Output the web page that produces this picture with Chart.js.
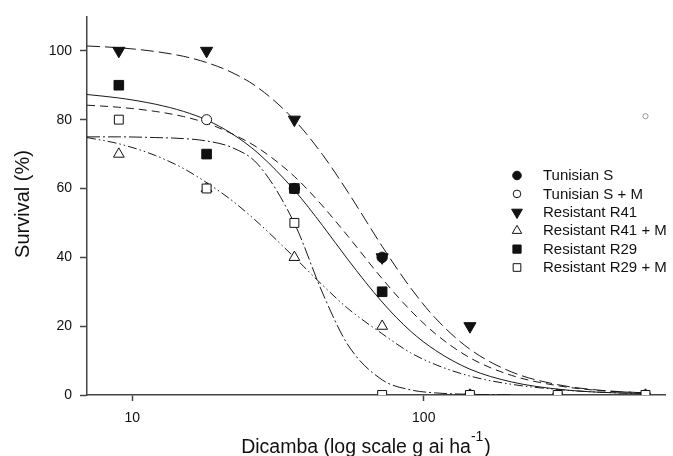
<!DOCTYPE html>
<html>
<head>
<meta charset="utf-8">
<script src="https://cdn.jsdelivr.net/npm/chart.js@4/dist/chart.umd.min.js"></script>
<style>
  html, body { margin: 0; padding: 0; background: #fff; }
  #wrap { width: 673px; height: 456px; }
</style>
</head>
<body>
<div id="wrap"><canvas id="c" width="673" height="456"></canvas></div>
<script>
// ---- Data ----
const doses = [9, 18, 36, 72, 144, 288, 576];
const tunisianS   = [null, null, 60, 40, null, null, null];
const tunisianSM  = [null, 80, null, null, 0, 0, 0];
const resistR41   = [100, 100, 80, 40, 20, null, null];
const resistR41M  = [70, 60, 40, 20, 0, 0, 0];
const resistR29   = [90, 70, 60, 30, null, null, null];
const resistR29M  = [80, 60, 50, 0, 0, 0, 0];
const strayPoint  = [{ x: 576, y: 81 }];

const seriesLabels = ["Tunisian S", "Tunisian S + M", "Resistant R41", "Resistant R41 + M", "Resistant R29", "Resistant R29 + M"];

// fitted curves, values
const curveX     = [7, 9, 12, 15, 18, 22, 27, 36, 45, 55, 72, 90, 110, 144, 200, 288, 400, 576];
const curveR41   = [101.4, 100.9, 99.8, 98.4, 96.6, 93.7, 89.3, 79.9, 69.8, 58.9, 43.2, 31.2, 22.2, 13.3, 6.7, 3.0, 1.4, 0.6];
const curveTunS  = [87.3, 86.3, 84.5, 82.4, 79.9, 75.9, 70.3, 59.5, 49.2, 39.3, 27.0, 18.6, 12.9, 7.5, 3.8, 1.7, 0.8, 0.4];
const curveTunSM = [84.2, 83.6, 82.4, 80.9, 79.0, 75.9, 71.8, 63.5, 54.9, 46.1, 33.8, 24.6, 17.7, 10.8, 5.7, 2.7, 1.3, 0.6];
const curveR41M  = [74.8, 73.0, 69.6, 65.8, 61.7, 56.5, 50.1, 40.0, 31.9, 25.1, 17.8, 12.3, 8.8, 5.5, 3.1, 1.6, 0.8, 0.4];
const curveR29M  = [75.0, 75.0, 74.8, 74.5, 73.8, 71.9, 67.0, 49.9, 29.6, 14.5, 4.4, 1.5, 0.6, 0.2, 0.05, null, null, null];

const yTicks = [0, 20, 40, 60, 80, 100];
const xTicks = [10, 100];

// ---- helpers ----
const pts = (xs, ys) => xs.map((x, i) => ({ x: x, y: ys[i] })).filter(p => p.y !== null);
const FONT = '"Liberation Sans", Arial, sans-serif';
const INK = '#111';

const markerStyles = [
  { pointStyle: 'circle', radius: 5.2, fill: INK },
  { pointStyle: 'circle', radius: 5.0, fill: '#fff' },
  { pointStyle: 'triangle', rotation: 180, radius: 7, fill: INK },
  { pointStyle: 'triangle', rotation: 0, radius: 6.2, fill: '#fff' },
  { pointStyle: 'rect', radius: 6.8, fill: INK },
  { pointStyle: 'rect', radius: 6.3, fill: '#fff' }
];
const markerData = [tunisianS, tunisianSM, resistR41, resistR41M, resistR29, resistR29M];

const datasets = [];
markerData.forEach((arr, i) => {
  const m = markerStyles[i];
  datasets.push({
    label: seriesLabels[i],
    data: pts(doses, arr),
    showLine: false,
    pointStyle: m.pointStyle,
    rotation: m.rotation || 0,
    pointRadius: m.radius,
    pointHoverRadius: m.radius,
    pointBackgroundColor: m.fill,
    pointBorderColor: INK,
    pointBorderWidth: 1,
    order: 6 - i,
    isMarker: true
  });
});
datasets.push({
  label: 'stray', data: strayPoint, showLine: false, pointStyle: 'circle',
  pointRadius: 2.6, pointBackgroundColor: '#fff', pointBorderColor: '#999', pointBorderWidth: 1, order: 7
});
const curves = [
  { data: curveR41, dash: [13, 5] },
  { data: curveTunS, dash: [] },
  { data: curveTunSM, dash: [8, 5] },
  { data: curveR41M, dash: [9, 3, 1.5, 3, 1.5, 3] },
  { data: curveR29M, dash: [13, 3, 2, 3] }
];
curves.forEach((c, i) => {
  datasets.push({
    label: 'curve' + i,
    data: pts(curveX, c.data),
    showLine: true,
    borderColor: '#1a1a1a',
    borderWidth: 1,
    borderDash: c.dash,
    pointRadius: 0,
    pointHoverRadius: 0,
    cubicInterpolationMode: 'monotone',
    fill: false,
    order: 20 + i
  });
});

function drawMarker(ctx, style, radius, rotation, fill, x, y) {
  ctx.save();
  ctx.beginPath();
  ctx.fillStyle = fill;
  ctx.strokeStyle = INK;
  ctx.lineWidth = 1;
  if (style === 'circle') {
    ctx.arc(x, y, radius, 0, Math.PI * 2);
  } else if (style === 'rect') {
    const s = radius * Math.SQRT1_2;
    ctx.rect(x - s, y - s, 2 * s, 2 * s);
  } else if (style === 'triangle') {
    let rad = (rotation || 0) * Math.PI / 180;
    ctx.moveTo(x + Math.sin(rad) * radius, y - Math.cos(rad) * radius);
    rad += 2 * Math.PI / 3;
    ctx.lineTo(x + Math.sin(rad) * radius, y - Math.cos(rad) * radius);
    rad += 2 * Math.PI / 3;
    ctx.lineTo(x + Math.sin(rad) * radius, y - Math.cos(rad) * radius);
    ctx.closePath();
  }
  ctx.fill();
  ctx.stroke();
  ctx.restore();
}

const decorPlugin = {
  id: 'decor',
  afterDraw(chart) {
    const ctx = chart.ctx;
    // legend
    const lx = 517, tx = 543, y0 = 175.5, dy = 18.4;
    const legendSizes = [4.3, 3.8, 6.2, 5.4, 5.8, 5.4];
    seriesLabels.forEach((lab, i) => {
      const m = markerStyles[i];
      const y = y0 + i * dy;
      drawMarker(ctx, m.pointStyle, legendSizes[i], m.rotation || 0, m.fill, lx, y);
      ctx.save();
      ctx.fillStyle = INK;
      ctx.font = '15px ' + FONT;
      ctx.textAlign = 'left';
      ctx.textBaseline = 'middle';
      ctx.fillText(lab, tx, y + 0.5);
      ctx.restore();
    });
    // y title
    ctx.save();
    ctx.translate(23, 204);
    ctx.rotate(-Math.PI / 2);
    ctx.fillStyle = INK;
    ctx.font = '20px ' + FONT;
    ctx.textAlign = 'center';
    ctx.textBaseline = 'middle';
    ctx.fillText('Survival (%)', 0, 0);
    ctx.restore();
    // x title with superscript
    ctx.save();
    ctx.fillStyle = INK;
    ctx.textBaseline = 'alphabetic';
    const main = 'Dicamba (log scale g ai ha';
    const sup = '-1';
    const close = ')';
    ctx.font = '19.5px ' + FONT;
    const wMain = ctx.measureText(main).width;
    const wClose = ctx.measureText(close).width;
    ctx.font = '14px ' + FONT;
    const wSup = ctx.measureText(sup).width;
    const total = wMain + wSup + wClose + 1;
    let x = 366 - total / 2;
    const base = 453;
    ctx.font = '19.5px ' + FONT;
    ctx.textAlign = 'left';
    ctx.fillText(main, x, base);
    x += wMain;
    ctx.font = '14px ' + FONT;
    ctx.fillText(sup, x, base - 12);
    x += wSup + 1;
    ctx.font = '19.5px ' + FONT;
    ctx.fillText(close, x, base);
    ctx.restore();
  }
};

new Chart(document.getElementById('c'), {
  type: 'scatter',
  data: { datasets: datasets },
  options: {
    responsive: false,
    animation: false,
    devicePixelRatio: 1,
    layout: { padding: { top: 15, right: 3, left: 0, bottom: 0 } },
    plugins: { legend: { display: false }, tooltip: { enabled: false } },
    scales: {
      x: {
        type: 'logarithmic',
        min: 7,
        max: 672,
        afterBuildTicks: s => { s.ticks = xTicks.map(v => ({ value: v })); },
        afterFit: s => { s.height = 61; },
        ticks: {
          color: INK,
          font: { family: FONT, size: 14 },
          padding: 9,
          maxRotation: 0,
          autoSkip: false,
          callback: v => String(v)
        },
        grid: { display: true, drawOnChartArea: false, drawTicks: true, tickLength: 6, tickColor: '#444', tickWidth: 1.5 },
        border: { display: true, color: '#444', width: 1.5 }
      },
      y: {
        type: 'linear',
        min: 0,
        max: 110,
        afterBuildTicks: s => { s.ticks = yTicks.map(v => ({ value: v })); },
        afterFit: s => { s.width = 87; },
        ticks: {
          color: INK,
          font: { family: FONT, size: 14 },
          padding: 8,
          autoSkip: false,
          callback: v => String(v)
        },
        grid: { display: true, drawOnChartArea: false, drawTicks: true, tickLength: 7, tickColor: '#444', tickWidth: 1.5 },
        border: { display: true, color: '#444', width: 1.5 }
      }
    }
  },
  plugins: [decorPlugin]
});
</script>
</body>
</html>
